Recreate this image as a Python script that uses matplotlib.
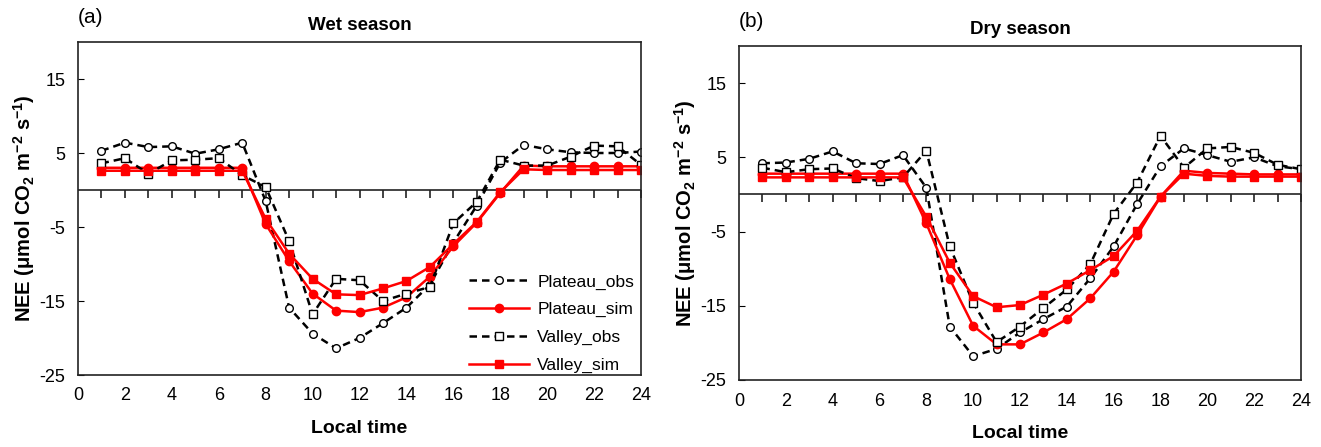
import numpy as np
import matplotlib.pyplot as plt

plt.rcParams['font.family'] = ['Liberation Sans', 'DejaVu Sans']
plt.rcParams['axes.unicode_minus'] = False

hours = np.arange(1, 25)

# wet season NEE (umol CO2 m-2 s-1)
wet_plateau_obs = [5.3, 6.4, 5.8, 5.9, 4.9, 5.5, 6.4, -1.5, -15.9, -19.4, -21.4, -20.0,
                   -18.0, -15.9, -12.8, -7.1, -2.1, 3.7, 6.1, 5.5, 5.1, 5.0, 5.0, 5.2]
wet_plateau_sim = [3.0, 3.0, 3.0, 3.0, 3.0, 3.0, 3.0, -4.6, -9.6, -14.0, -16.3, -16.5,
                   -15.9, -14.5, -11.7, -7.6, -4.4, -0.4, 3.3, 3.2, 3.2, 3.2, 3.2, 3.2]
wet_valley_obs = [3.6, 4.3, 2.2, 4.0, 4.1, 4.3, 2.0, 0.4, -6.9, -16.8, -12.0, -12.2,
                  -15.0, -14.0, -13.1, -4.5, -1.6, 4.1, 3.3, 3.3, 4.5, 6.0, 5.9, 3.4]
wet_valley_sim = [2.6, 2.6, 2.6, 2.6, 2.6, 2.6, 2.6, -3.9, -8.6, -12.0, -14.1, -14.2,
                  -13.3, -12.3, -10.4, -7.3, -4.3, -0.3, 2.8, 2.7, 2.7, 2.7, 2.7, 2.7]

# dry season NEE
dry_plateau_obs = [4.2, 4.3, 4.8, 5.8, 4.2, 4.1, 5.3, 0.9, -17.8, -21.8, -20.8, -18.6,
                   -16.8, -15.1, -11.3, -7.0, -1.3, 3.8, 6.2, 5.3, 4.4, 5.0, 3.8, 3.4]
dry_plateau_sim = [2.8, 2.8, 2.8, 2.8, 2.8, 2.8, 2.8, -3.9, -11.4, -17.7, -20.2, -20.2,
                   -18.6, -16.8, -14.0, -10.4, -5.5, -0.3, 3.2, 2.9, 2.8, 2.7, 2.7, 2.7]
dry_valley_obs = [3.6, 3.0, 3.4, 3.5, 2.2, 1.8, 2.3, 5.9, -7.0, -14.6, -19.9, -17.8,
                  -15.3, -12.8, -9.4, -2.6, 1.6, 7.9, 3.6, 6.2, 6.4, 5.6, 4.0, 3.4]
dry_valley_sim = [2.3, 2.3, 2.3, 2.3, 2.3, 2.3, 2.3, -3.0, -9.2, -13.7, -15.2, -14.9,
                  -13.5, -12.0, -10.2, -8.3, -4.9, -0.3, 2.8, 2.5, 2.4, 2.4, 2.4, 2.4]

W, H = 1321, 447
fig = plt.figure(figsize=(W / 100, H / 100), dpi=100)


def panel(box, plateau_obs, plateau_sim, valley_obs, valley_sim, tag, title, legend=False):
    l, t, r, b = box
    ax = fig.add_axes([l / W, 1 - b / H, (r - l) / W, (b - t) / H])
    ax.axhline(0, color='#222222', lw=1.2, zorder=1)
    ax.plot(hours, plateau_obs, color='black', ls='--', lw=1.8, marker='o', ms=5.5,
            mfc='white', mec='black', mew=1, dashes=(3, 2), label='Plateau_obs')
    ax.plot(hours, plateau_sim, color='red', lw=1.8, marker='o', ms=6,
            label='Plateau_sim')
    ax.plot(hours, valley_obs, color='black', ls='--', lw=1.8, marker='s', ms=5.5,
            mfc='white', mec='black', mew=1, dashes=(3, 2), label='Valley_obs')
    ax.plot(hours, valley_sim, color='red', lw=1.8, marker='s', ms=6,
            label='Valley_sim')
    ax.set_xlim(0, 24)
    ax.set_ylim(-25, 20)
    ax.set_xticks(np.arange(0, 25, 2))
    ax.set_yticks([15, 5, -5, -15, -25])
    ax.tick_params(axis='x', length=0, labelsize=13, pad=9)
    ax.tick_params(axis='y', direction='in', length=4, labelsize=13, pad=9)
    for s in ax.spines.values():
        s.set_linewidth(1.2)
        s.set_color('#222222')

    # zero line carries the hourly tick marks
    zero = ax.secondary_xaxis(25 / 45)
    zero.set_xticks(np.arange(1, 25))
    zero.tick_params(axis='x', direction='out', length=6, width=1.2, labelbottom=False,
                     labeltop=False, bottom=True, top=False, color='#222222')
    zero.spines['bottom'].set_visible(False)
    zero.spines['top'].set_visible(False)

    ax.set_xlabel('Local time', fontsize=14, fontweight='bold', labelpad=11)
    ax.set_ylabel('NEE (μmol CO$_\\mathregular{2}$ m$^\\mathregular{-2}$ s$^\\mathregular{-1}$)',
                  fontsize=14.5, fontweight='bold', labelpad=2)
    ax.text(0.0, 1.045, tag, transform=ax.transAxes, fontsize=15, va='bottom', ha='left')
    ax.set_title(title, fontsize=13.5, fontweight='bold', pad=9)
    if legend:
        ax.legend(loc='lower right', bbox_to_anchor=(1.0, -0.015), frameon=False,
                  fontsize=12.5, handlelength=3.4, labelspacing=0.72, borderaxespad=0,
                  handletextpad=0.5)
    return ax


panel((78, 42, 641, 375), wet_plateau_obs, wet_plateau_sim, wet_valley_obs, wet_valley_sim,
      '(a)', 'Wet season', legend=True)
panel((739, 46, 1301, 380), dry_plateau_obs, dry_plateau_sim, dry_valley_obs, dry_valley_sim,
      '(b)', 'Dry season')

fig.savefig('out.png', dpi=100)
